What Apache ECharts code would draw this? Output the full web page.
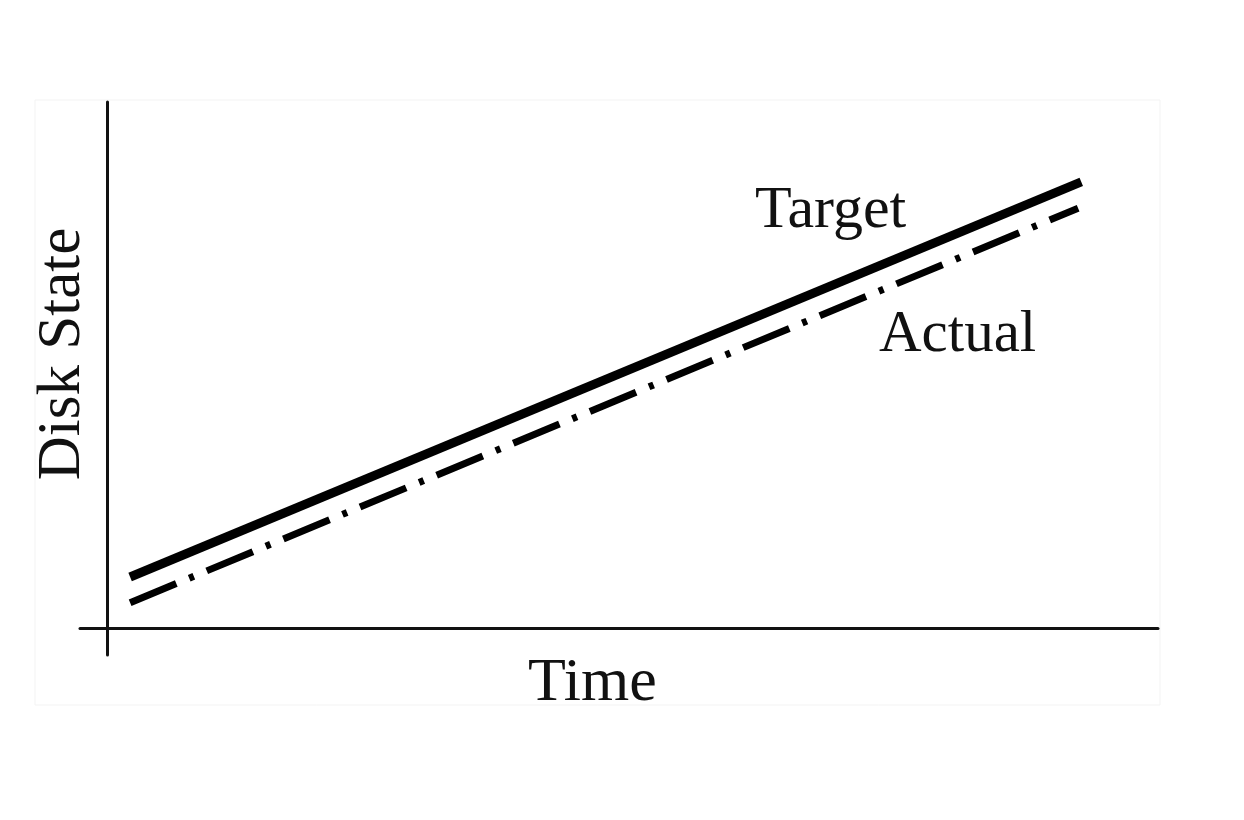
<!DOCTYPE html>
<html>
<head>
<meta charset="utf-8">
<script src="https://cdn.jsdelivr.net/npm/echarts@6/dist/echarts.min.js"></script>
<style>html,body{margin:0;padding:0;background:#fff;}#c{width:1244px;height:820px;}</style>
</head>
<body>
<div id="c"></div>
<script>
// Data (arbitrary units: time 0..100, disk state 0..100)
var timeStart = [2.2, 2.2];
var timeEnd = [92.7, 92.4];
var targetValues = [9.7, 84.8];
var actualValues = [4.8, 79.8];
var seriesNames = ['Target', 'Actual'];
var xAxisName = 'Time';
var yAxisName = 'Disk State';

var targetData = [[timeStart[0], targetValues[0]], [timeEnd[0], targetValues[1]]];
var actualData = [[timeStart[1], actualValues[0]], [timeEnd[1], actualValues[1]]];

var chart = echarts.init(document.getElementById('c'), null, {renderer: 'canvas'});
var font = '"Liberation Serif", "DejaVu Serif", serif';
var option = {
  backgroundColor: '#ffffff',
  animation: false,
  grid: {left: 80, right: 86, top: 102, bottom: 165},
  xAxis: {
    type: 'value', min: -2.569, max: 100,
    axisLine: {show: true, onZero: true, lineStyle: {color: '#111', width: 3}},
    axisTick: {show: false}, axisLabel: {show: false}, splitLine: {show: false}
  },
  yAxis: {
    type: 'value', min: -5.133, max: 100,
    axisLine: {show: true, onZero: true, lineStyle: {color: '#111', width: 3}},
    axisTick: {show: false}, axisLabel: {show: false}, splitLine: {show: false}
  },
  series: [
    {name: seriesNames[0], type: 'line', data: targetData, symbol: 'none',
     lineStyle: {color: '#000', width: 9, type: 'solid'}},
    {name: seriesNames[1], type: 'line', data: actualData, symbol: 'none',
     lineStyle: {color: '#000', width: 7, type: [50, 14, 5, 14]}}
  ],
  graphic: [
    {type: 'rect', z: -1, shape: {x: 35, y: 100, width: 1125, height: 605},
     style: {fill: 'none', stroke: '#f3f3f3', lineWidth: 1}},
    {type: 'text', left: 755, top: 181, style: {text: seriesNames[0], font: '60px ' + font, fill: '#111'}},
    {type: 'text', left: 879, top: 306, style: {text: seriesNames[1], font: '59px ' + font, fill: '#111'}},
    {type: 'text', left: 528, top: 653, style: {text: xAxisName, font: '62px ' + font, fill: '#111'}},
    {type: 'text', x: 63, y: 354, rotation: Math.PI / 2,
     style: {text: yAxisName, font: '61px ' + font, fill: '#111', align: 'center', verticalAlign: 'middle'}}
  ]
};
chart.setOption(option);
</script>
</body>
</html>
